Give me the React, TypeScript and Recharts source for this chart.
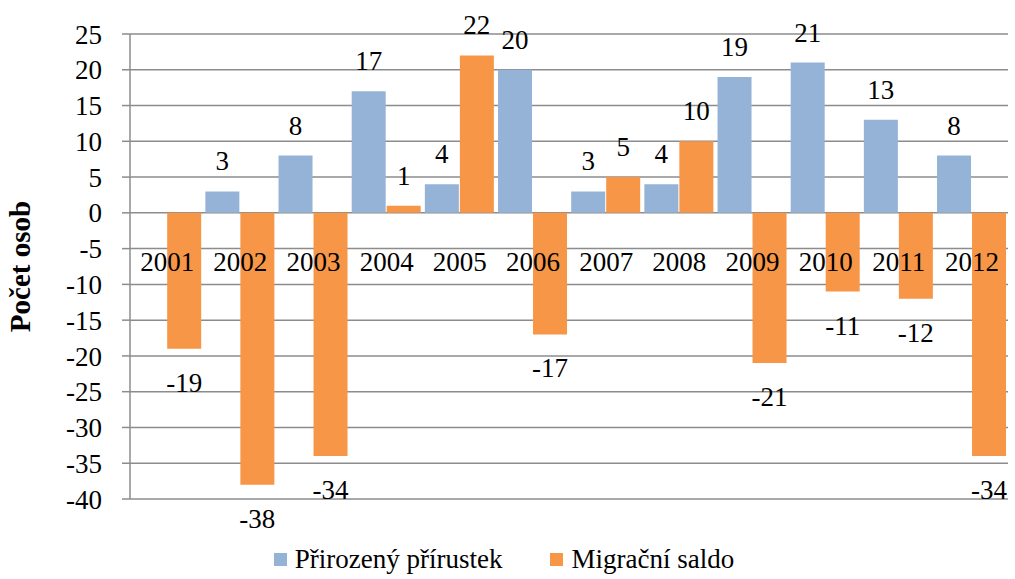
import { BarChart, Bar, XAxis, YAxis, CartesianGrid, Legend, LabelList } from 'recharts';

const years = ['2001', '2002', '2003', '2004', '2005', '2006', '2007', '2008', '2009', '2010', '2011', '2012'];
const prirozeny = [0, 3, 8, 17, 4, 20, 3, 4, 19, 21, 13, 8];
const migrace = [-19, -38, -34, 1, 22, -17, 5, 10, -21, -11, -12, -34];
const yTicks = [25, 20, 15, 10, 5, 0, -5, -10, -15, -20, -25, -30, -35, -40];

const BLUE = '#95b3d7';
const ORANGE = '#f79646';
const GRID = '#8c8c8c';
const FONT = "'Liberation Serif', 'DejaVu Serif', 'Times New Roman', Times, serif";
const FS = 27;

const data = years.map((year, i) => ({
  year,
  prirozeny: prirozeny[i],
  migrace: migrace[i],
}));

// value label above positive bars, below negative ones
function ValueLabel(props: any) {
  const { x, y, width, height, value } = props;
  const top = Math.min(y, y + height);
  const bottom = Math.max(y, y + height);
  const cy = value >= 0 ? top - 30 : bottom + 34;
  return (
    <text x={x + width / 2} y={cy} textAnchor="middle" dominantBaseline="central"
      fontFamily={FONT} fontSize={FS} fill="#000">
      {value}
    </text>
  );
}

// year labels sit just under the zero line, centred between the two bars
function YearLabel(props: any) {
  const { x, y, height, value, index } = props;
  const v = migrace[index];
  const zero = v >= 0 ? Math.max(y, y + height) : Math.min(y, y + height);
  return (
    <text x={x} y={zero + 49} textAnchor="middle" dominantBaseline="central"
      fontFamily={FONT} fontSize={FS} fill="#000">
      {value}
    </text>
  );
}

function LegendContent() {
  const items = [
    { label: 'Přirozený přírustek', color: BLUE },
    { label: 'Migrační saldo', color: ORANGE },
  ];
  return (
    <div style={{ display: 'flex', justifyContent: 'center', gap: 48, fontFamily: FONT, fontSize: FS, lineHeight: '31px', height: 31 }}>
      {items.map((it) => (
        <div key={it.label} style={{ display: 'flex', alignItems: 'center' }}>
          <span style={{ width: 13, height: 13, background: it.color, marginRight: 8, display: 'inline-block' }} />
          <span>{it.label}</span>
        </div>
      ))}
    </div>
  );
}

export default function App() {
  return (
    <div style={{ position: 'absolute', left: 0, top: 0, background: '#fff', fontFamily: FONT }}>
      <BarChart
        width={1015}
        height={579}
        data={data}
        margin={{ top: 34, right: 7, left: 0, bottom: 49 }}
        barCategoryGap="3%"
        barGap={1}
        style={{ fontFamily: FONT }}
      >
        <CartesianGrid vertical={false} stroke={GRID} strokeWidth={1.5} />
        <XAxis dataKey="year" hide />
        <YAxis
          width={130}
          domain={[-40, 25]}
          ticks={yTicks}
          interval={0}
          axisLine={{ stroke: GRID, strokeWidth: 1.5 }}
          tickLine={{ stroke: GRID, strokeWidth: 1.5 }}
          tickSize={8}
          tickMargin={20}
          tick={{ fontFamily: FONT, fontSize: FS, fill: '#000' }}
          label={{
            value: 'Počet osob',
            angle: -90,
            position: 'insideLeft',
            offset: 20,
            fontFamily: FONT,
            fontSize: 29,
            fontWeight: 'bold',
            fill: '#000',
            style: { textAnchor: 'middle' },
          }}
        />
        <Legend verticalAlign="bottom" wrapperStyle={{ bottom: 4 }} content={<LegendContent />} />
        <Bar dataKey="prirozeny" name="Přirozený přírustek" fill={BLUE} isAnimationActive={false}>
          <LabelList dataKey="prirozeny" content={<ValueLabel />} />
        </Bar>
        <Bar dataKey="migrace" name="Migrační saldo" fill={ORANGE} isAnimationActive={false}>
          <LabelList dataKey="migrace" content={<ValueLabel />} />
          <LabelList dataKey="year" content={<YearLabel />} />
        </Bar>
      </BarChart>
    </div>
  );
}
